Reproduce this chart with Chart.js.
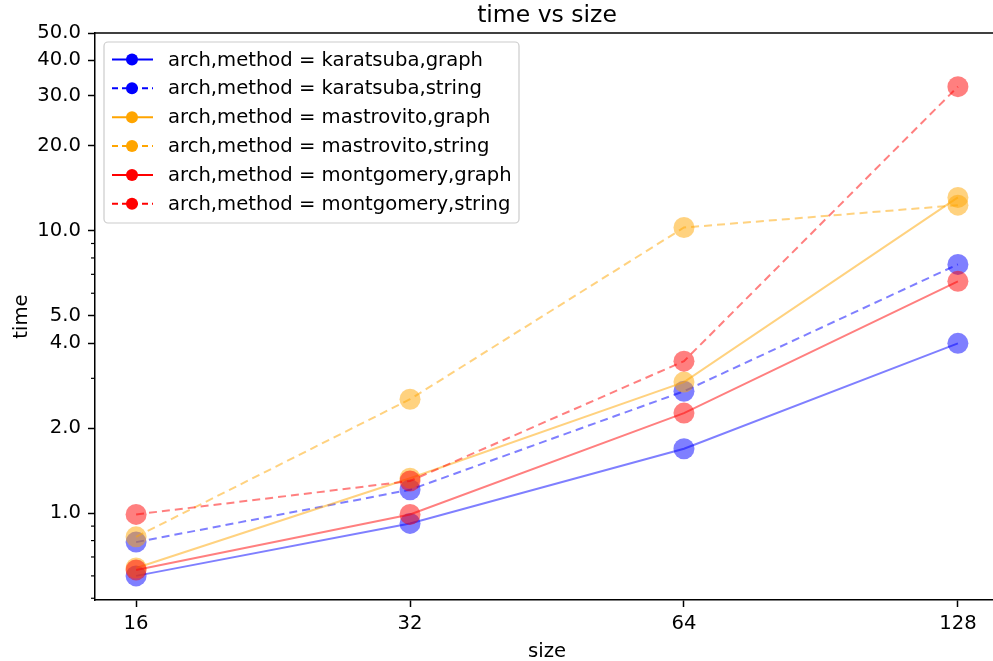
<!DOCTYPE html>
<html><head><meta charset="utf-8">
<script src="https://cdn.jsdelivr.net/npm/chart.js@4.4.1/dist/chart.umd.min.js"></script>
<style>
html,body{margin:0;padding:0;overflow:hidden;background:#fff;width:993px;height:661px;}
#wrap{position:relative;width:1000px;height:661px;}
</style></head><body>
<div id="wrap"><canvas id="c" width="1000" height="661"></canvas></div>
<script>
// ---- data ----
const sizes = [16, 32, 64, 128];
const karatsubaGraph   = [0.60, 0.92, 1.69, 3.99];
const karatsubaString  = [0.79, 1.21, 2.70, 7.59];
const mastrovitoGraph  = [0.64, 1.33, 2.91, 13.1];
const mastrovitoString = [0.825, 2.53, 10.25, 12.3];
const montgomeryGraph  = [0.63, 0.99, 2.26, 6.61];
const montgomeryString = [0.99, 1.30, 3.45, 32.3];
const seriesNames = ['karatsuba,graph','karatsuba,string','mastrovito,graph','mastrovito,string','montgomery,graph','montgomery,string'];
const yMajorTicks = [1, 2, 4, 5, 10, 20, 30, 40, 50];
const yMinorTicks = [0.5, 0.6, 0.7, 0.8, 0.9, 3, 6, 7, 8, 9];

// ---- styling ----
const seriesValues = [karatsubaGraph, karatsubaString, mastrovitoGraph, mastrovitoString, montgomeryGraph, montgomeryString];
const seriesColors = ['0,0,255','0,0,255','255,165,0','255,165,0','255,0,0','255,0,0'];
const seriesDashed = [false, true, false, true, false, true];
const DASH = [8, 5];
const FONT = 'DejaVu Sans';
const FS = 19.6;
Chart.defaults.font.family = FONT;
Chart.defaults.color = '#000';

const datasets = seriesNames.map((name, i) => ({
  label: 'arch,method = ' + name,
  data: sizes.map((x, j) => ({x: x, y: seriesValues[i][j]})),
  borderColor: 'rgba(' + seriesColors[i] + ',0.5)',
  backgroundColor: 'rgba(' + seriesColors[i] + ',0.5)',
  pointBackgroundColor: 'rgba(' + seriesColors[i] + ',0.5)',
  pointBorderWidth: 0,
  pointRadius: 10.5,
  pointHoverRadius: 10.5,
  borderWidth: 2,
  borderDash: seriesDashed[i] ? DASH : [],
  fill: false,
  tension: 0,
  order: seriesNames.length - i
}));

const extras = {
  id: 'extras',
  afterDraw(chart) {
    const ctx = chart.ctx, ca = chart.chartArea;
    const y = chart.scales.y;
    ctx.save();
    // top spine
    ctx.strokeStyle = '#000'; ctx.lineWidth = 1.5;
    ctx.beginPath(); ctx.moveTo(ca.left - 0.75, ca.top); ctx.lineTo(ca.right, ca.top); ctx.stroke();
    // minor ticks
    ctx.lineWidth = 1.2;
    yMinorTicks.forEach(v => {
      const py = y.getPixelForValue(v);
      if (py < ca.top || py > ca.bottom) return;
      ctx.beginPath(); ctx.moveTo(ca.left - 4, py); ctx.lineTo(ca.left, py); ctx.stroke();
    });
    // legend
    const bx = 104, by = 42, bw = 415, bh = 181, r = 4;
    ctx.fillStyle = 'rgba(255,255,255,0.8)';
    ctx.strokeStyle = '#cccccc'; ctx.lineWidth = 1.2;
    ctx.beginPath();
    ctx.roundRect(bx, by, bw, bh, r);
    ctx.fill(); ctx.stroke();
    ctx.font = FS + 'px "' + FONT + '"';
    ctx.textBaseline = 'middle';
    ctx.textAlign = 'left';
    chart.data.datasets.forEach((ds, i) => {
      const ry = 59.5 + i * 28.85;
      const col = 'rgb(' + seriesColors[i] + ')';
      ctx.strokeStyle = col; ctx.lineWidth = 2;
      ctx.setLineDash(seriesDashed[i] ? [6, 4] : []);
      ctx.beginPath(); ctx.moveTo(112, ry); ctx.lineTo(153, ry); ctx.stroke();
      ctx.setLineDash([]);
      ctx.fillStyle = col;
      ctx.beginPath(); ctx.arc(132, ry, 6, 0, Math.PI * 2); ctx.fill();
      ctx.fillStyle = '#000';
      ctx.fillText(ds.label, 168, ry + 1);
    });
    ctx.restore();
  }
};

new Chart(document.getElementById('c'), {
  type: 'line',
  data: { datasets: datasets },
  options: {
    responsive: false,
    animation: false,
    layout: { autoPadding: false, padding: { left: 0, right: 1, top: 0, bottom: 0 } },
    plugins: {
      legend: { display: false },
      tooltip: { enabled: false },
      title: { display: true, text: 'time vs size', fullSize: false, color: '#000',
               font: { size: 23.5, weight: 'normal' }, padding: { top: 2, bottom: 2.8 } }
    },
    scales: {
      x: {
        type: 'logarithmic',
        min: Math.pow(2, 3.85), max: Math.pow(2, 7.15),
        afterBuildTicks: s => { s.ticks = sizes.map(v => ({ value: v })); },
        afterFit: s => { s.height = 61; s.paddingRight = 0; s.paddingLeft = 0; },
        ticks: { callback: v => String(v), font: { size: FS }, padding: 5, maxRotation: 0, autoSkip: false, color: '#000' },
        grid: { drawOnChartArea: false, tickLength: 7, tickColor: '#000', tickWidth: 1.5 },
        border: { display: true, color: '#000', width: 1.5 },
        title: { display: true, text: 'size', font: { size: FS, lineHeight: 1 }, color: '#000', padding: { top: 0, bottom: -1 } }
      },
      y: {
        type: 'logarithmic',
        min: 0.493, max: 50,
        afterBuildTicks: s => { s.ticks = yMajorTicks.map(v => ({ value: v })); },
        afterFit: s => { s.width = 95; s.paddingTop = 0; s.paddingBottom = 0; },
        ticks: { callback: v => Number(v).toFixed(1), font: { size: FS }, padding: 7, autoSkip: false, color: '#000' },
        grid: { drawOnChartArea: false, tickLength: 7, tickColor: '#000', tickWidth: 1.5 },
        border: { display: true, color: '#000', width: 1.5 },
        title: { display: true, text: 'time', font: { size: FS }, color: '#000', padding: { top: 10, bottom: 0 } }
      }
    }
  },
  plugins: [extras]
});
</script>
</body></html>
